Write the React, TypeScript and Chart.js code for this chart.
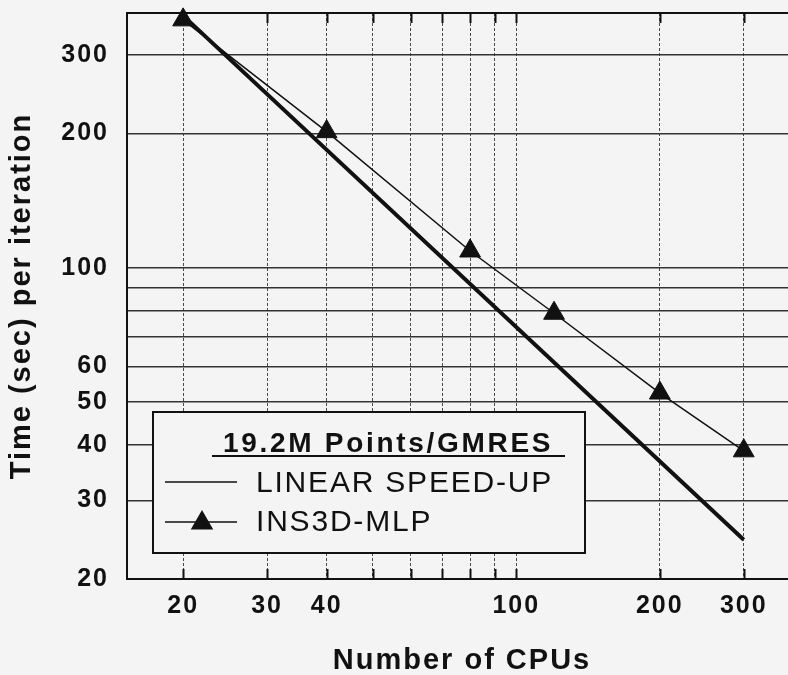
import React, { useEffect, useRef } from 'react';
import { Chart, registerables } from 'chart.js';

Chart.register(...registerables);

// ---- data ----
const LEGEND_TITLE = '19.2M Points/GMRES';
const SERIES_LINEAR = 'LINEAR SPEED-UP';
const SERIES_MLP = 'INS3D-MLP';
const X_TITLE = 'Number of CPUs';
const Y_TITLE = 'Time (sec) per iteration';

const LINEAR_CPUS = [20, 300];
const LINEAR_TIME = [368, 24.5];
const MLP_CPUS = [20, 40, 80, 120, 200, 300];
const MLP_TIME = [360, 202, 109, 79, 52.3, 38.8];

const X_GRID = [20, 30, 40, 50, 60, 70, 80, 90, 100, 200, 300];
const X_LABELS = [20, 30, 40, 100, 200, 300];
const Y_GRID = [20, 30, 40, 50, 60, 70, 80, 90, 100, 200, 300];
const Y_LABELS = [20, 30, 40, 50, 60, 100, 200, 300];
const X_MIN = 15.25;
const X_MAX = 388;
const Y_MIN = 20;
const Y_MAX = 373;

// ---- style ----
const BG = '#f4f4f4';
const INK = '#111111';
const FONT = "'Liberation Sans', Arial, Helvetica, sans-serif";

const framePlugin = {
  id: 'frameAndBg',
  beforeDraw(chart: any) {
    const ctx = chart.ctx;
    ctx.save();
    ctx.fillStyle = BG;
    ctx.fillRect(0, 0, chart.width, chart.height);
    ctx.restore();
    ctx.letterSpacing = '2px';
  },
  beforeDatasetsDraw(chart: any) {
    const ctx = chart.ctx;
    const { left, top, right, bottom } = chart.chartArea;
    const xs = chart.scales.x;
    ctx.save();
    ctx.strokeStyle = INK;
    ctx.lineWidth = 2;
    X_GRID.forEach((v) => {
      const px = Math.round(xs.getPixelForValue(v)) + 0.5;
      ctx.beginPath();
      ctx.moveTo(px, top);
      ctx.lineTo(px, top + 10);
      ctx.moveTo(px, bottom);
      ctx.lineTo(px, bottom - 10);
      ctx.stroke();
    });
    ctx.beginPath();
    ctx.moveTo(right + 20, top);
    ctx.lineTo(left, top);
    ctx.lineTo(left, bottom);
    ctx.lineTo(right + 20, bottom);
    ctx.stroke();
    ctx.restore();
  },
};

const legendPlugin = {
  id: 'boxLegend',
  afterDraw(chart: any) {
    const ctx = chart.ctx;
    const { left, bottom } = chart.chartArea;
    const bx = left + 26;
    const by = bottom - 167;
    const bw = 432;
    const bh = 141;
    const ds = chart.data.datasets;
    ctx.save();
    ctx.fillStyle = BG;
    ctx.fillRect(bx, by, bw, bh);
    ctx.strokeStyle = INK;
    ctx.lineWidth = 2;
    ctx.strokeRect(bx, by, bw, bh);

    ctx.fillStyle = INK;
    ctx.textBaseline = 'alphabetic';
    ctx.textAlign = 'left';
    ctx.font = `bold 28px ${FONT}`;
    ctx.letterSpacing = '2.7px';
    ctx.fillText(LEGEND_TITLE, bx + 70, by + 40);
    ctx.beginPath();
    ctx.lineWidth = 2;
    ctx.moveTo(bx + 59, by + 44);
    ctx.lineTo(bx + 412, by + 44);
    ctx.stroke();

    ctx.font = `30px ${FONT}`;
    ctx.letterSpacing = '1.8px';
    ctx.lineWidth = 1.5;
    ctx.beginPath();
    ctx.moveTo(bx + 12, by + 70);
    ctx.lineTo(bx + 84, by + 70);
    ctx.stroke();
    ctx.fillText(ds[0].label, bx + 103, by + 80);
    ctx.beginPath();
    ctx.moveTo(bx + 12, by + 110);
    ctx.lineTo(bx + 84, by + 110);
    ctx.stroke();
    const cx = bx + 49;
    const cy = by + 111;
    const r = 13;
    ctx.beginPath();
    for (let k = 0; k < 3; k++) {
      const a = (k * 2 * Math.PI) / 3;
      const px = cx + Math.sin(a) * r;
      const py = cy - Math.cos(a) * r;
      if (k === 0) ctx.moveTo(px, py);
      else ctx.lineTo(px, py);
    }
    ctx.closePath();
    ctx.fill();
    ctx.fillText(ds[1].label, bx + 103, by + 119);
    ctx.restore();
  },
};

export default function App() {
  const ref = useRef<HTMLCanvasElement | null>(null);

  useEffect(() => {
    if (!ref.current) return;
    const linear = LINEAR_CPUS.map((c, i) => ({ x: c, y: LINEAR_TIME[i] }));
    const mlp = MLP_CPUS.map((c, i) => ({ x: c, y: MLP_TIME[i] }));
    const chart = new Chart(ref.current, {
      type: 'line',
      data: {
        datasets: [
          {
            label: SERIES_LINEAR,
            data: linear,
            borderColor: INK,
            borderWidth: 4,
            pointRadius: 0,
            fill: false,
            order: 1,
            clip: false as any,
          },
          {
            label: SERIES_MLP,
            data: mlp,
            borderColor: INK,
            backgroundColor: INK,
            borderWidth: 1.5,
            pointStyle: 'triangle',
            pointRadius: 12,
            pointBorderWidth: 1,
            pointBackgroundColor: INK,
            pointBorderColor: INK,
            fill: false,
            order: 0,
            clip: false as any,
          },
        ],
      },
      options: {
        responsive: false,
        devicePixelRatio: 1,
        animation: false,
        layout: { padding: { top: 10, left: 0, right: 1, bottom: 0 } },
        plugins: {
          legend: { display: false },
          tooltip: { enabled: false },
        },
        scales: {
          x: {
            type: 'logarithmic',
            min: X_MIN,
            max: X_MAX,
            afterBuildTicks: (s: any) => {
              s.ticks = X_GRID.map((v) => ({ value: v }));
            },
            afterFit: (s: any) => {
              s.height = 96;
              s.paddingLeft = 0;
              s.paddingRight = 0;
            },
            ticks: {
              autoSkip: false,
              maxRotation: 0,
              minRotation: 0,
              padding: 12,
              color: INK,
              font: { family: FONT, size: 25, weight: 'bold' },
              callback: (v: any) => (X_LABELS.includes(Number(v)) ? String(v) : ''),
            },
            grid: { drawTicks: false, color: '#4a4a4a', lineWidth: 1 },
            border: { display: false, dash: [3, 2] },
            title: {
              display: true,
              text: X_TITLE,
              color: INK,
              font: { family: FONT, size: 29, weight: 'bold', lineHeight: 1 },
              padding: { top: 0, bottom: 0 },
            },
          },
          y: {
            type: 'logarithmic',
            min: Y_MIN,
            max: Y_MAX,
            afterBuildTicks: (s: any) => {
              s.ticks = Y_GRID.map((v) => ({ value: v }));
            },
            afterFit: (s: any) => {
              s.width = 127;
              s.paddingTop = 0;
              s.paddingBottom = 0;
            },
            ticks: {
              autoSkip: false,
              padding: 18,
              color: INK,
              font: { family: FONT, size: 25, weight: 'bold' },
              callback: (v: any) => (Y_LABELS.includes(Number(v)) ? String(v) : ''),
            },
            grid: { drawTicks: false, color: '#333333', lineWidth: 1.5 },
            border: { display: false },
            title: {
              display: true,
              text: Y_TITLE,
              color: INK,
              font: { family: FONT, size: 29, weight: 'bold', lineHeight: 1 },
              padding: { top: 7, bottom: 0 },
            },
          },
        },
      },
      plugins: [framePlugin, legendPlugin],
    });
    return () => chart.destroy();
  }, []);

  return (
    <div
      style={{
        position: 'fixed',
        left: 0,
        top: 0,
        width: 788,
        height: 675,
        overflow: 'hidden',
        background: BG,
      }}
    >
      <canvas ref={ref} width={810} height={675} style={{ display: 'block', width: 810, height: 675 }} />
    </div>
  );
}
